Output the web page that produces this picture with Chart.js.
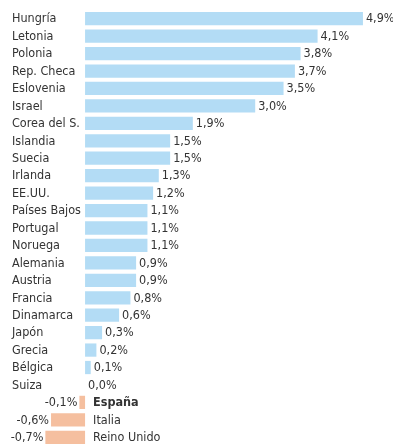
<!DOCTYPE html>
<html>
<head>
<meta charset="utf-8">
<script src="https://cdn.jsdelivr.net/npm/chart.js@4"></script>
<style>
  html, body { margin: 0; padding: 0; background: #fff; }
  #wrap { width: 393px; height: 447px; position: relative; }
</style>
</head>
<body>
<div id="wrap"><canvas id="chart"></canvas></div>
<script>
const countries = ['Hungría', 'Letonia', 'Polonia', 'Rep. Checa', 'Eslovenia', 'Israel', 'Corea del S.',
  'Islandia', 'Suecia', 'Irlanda', 'EE.UU.', 'Países Bajos', 'Portugal', 'Noruega', 'Alemania',
  'Austria', 'Francia', 'Dinamarca', 'Japón', 'Grecia', 'Bélgica', 'Suiza', 'España', 'Italia', 'Reino Unido'];
const values = [4.9, 4.1, 3.8, 3.7, 3.5, 3.0, 1.9, 1.5, 1.5, 1.3, 1.2, 1.1, 1.1, 1.1, 0.9,
  0.9, 0.8, 0.6, 0.3, 0.2, 0.1, 0.0, -0.1, -0.6, -0.7];
const highlight = 'España';

const FONT = "'Liberation Sans Narrow', 'DejaVu Sans Condensed', sans-serif";
const TEXT = '#333333';

function fmt(v) {
  return v.toFixed(1).replace('.', ',') + '%';
}

// names on the left (or right of zero for negatives), values at the bar ends
const labelPlugin = {
  id: 'labels',
  afterDatasetsDraw(chart) {
    const ctx = chart.ctx;
    const zero = chart.scales.x.getPixelForValue(0);
    const meta = chart.getDatasetMeta(0);
    ctx.save();
    ctx.textBaseline = 'middle';
    meta.data.forEach((bar, i) => {
      const v = values[i];
      const y = bar.y + 0.5;
      const name = countries[i];
      ctx.fillStyle = TEXT;
      ctx.font = (name === highlight ? 'bold ' : '') + '12.5px ' + FONT;
      ctx.textAlign = 'left';
      ctx.fillText(name, v < 0 ? zero + 8 : 12, y);

      ctx.font = '12.5px ' + FONT;
      if (v < 0) {
        ctx.textAlign = 'right';
        ctx.fillText(fmt(v), bar.x - 2, y);
      } else {
        ctx.textAlign = 'left';
        ctx.fillText(fmt(v), Math.max(bar.x + 3, zero - 2), y);
      }
    });
    ctx.restore();
  }
};

new Chart(document.getElementById('chart'), {
  type: 'bar',
  data: {
    labels: countries,
    datasets: [{
      data: values,
      backgroundColor: values.map(v => v < 0 ? '#f5bf9f' : '#b3dcf5'),
      borderWidth: 0,
      barPercentage: 0.76,
      categoryPercentage: 1
    }]
  },
  options: {
    indexAxis: 'y',
    responsive: true,
    maintainAspectRatio: false,
    animation: false,
    layout: { padding: { top: 10, bottom: 1, left: 0, right: 0 } },
    plugins: {
      legend: { display: false },
      tooltip: { enabled: false }
    },
    scales: {
      x: { display: false, min: -1.5, max: 5.43 },
      y: { display: false }
    }
  },
  plugins: [labelPlugin]
});
</script>
</body>
</html>
